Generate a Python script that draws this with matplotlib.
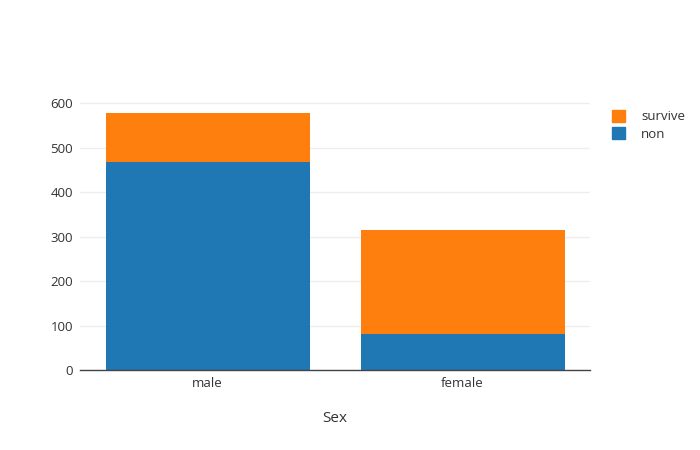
import matplotlib
matplotlib.use("Agg")
import matplotlib.pyplot as plt
from matplotlib.patches import Patch

# Titanic counts by sex
categories = ["male", "female"]
non = [468, 81]
survive = [109, 233]

plt.rcParams['font.family'] = ['Open Sans', 'DejaVu Sans']

fig = plt.figure(figsize=(7, 4.5), dpi=100)
ax = fig.add_axes([80/700, 80/450, 510/700, 270/450])

x = range(len(categories))
ax.bar(x, non, width=0.8, color="#1f77b4", zorder=2)
ax.bar(x, survive, width=0.8, bottom=non, color="#ff7f0e", zorder=2)

ax.set_xlim(-0.5, 1.5)
ax.set_ylim(0, 607)
ax.set_yticks(range(0, 601, 100))
ax.set_xticks(list(x))
ax.set_xticklabels(categories)
ax.yaxis.grid(True, color="#eeeeee", linewidth=1, zorder=0)
ax.set_axisbelow(True)

for s in ["top", "right", "left"]:
    ax.spines[s].set_visible(False)
ax.spines["bottom"].set_color("#444444")
ax.spines["bottom"].set_linewidth(1)
ax.tick_params(axis="both", length=0, labelsize=9.5, colors="#333333", pad=5)

ax.set_xlabel("Sex", fontsize=11, color="#333333", labelpad=15)

handles = [Patch(color="#ff7f0e", label="survive"), Patch(color="#1f77b4", label="non")]
leg = fig.legend(handles=handles, loc="upper left", bbox_to_anchor=(600/700, 1 - 98/450),
                 frameon=False, fontsize=9.5, handlelength=1.0, handleheight=1.0,
                 handletextpad=1.2, labelspacing=0.3)
for t in leg.get_texts():
    t.set_color("#333333")

fig.savefig("out.png", dpi=100)
